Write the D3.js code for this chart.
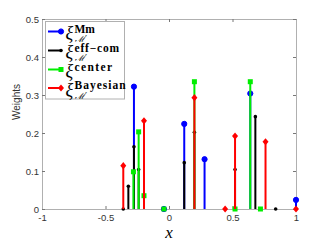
<!DOCTYPE html>
<html><head><meta charset="utf-8">
<script src="https://cdn.jsdelivr.net/npm/d3@7"></script>
<style>body{margin:0;background:#fff}</style></head>
<body><svg id="c" width="327" height="245"></svg>
<script>
// Data (node positions and weights) per series
const mmX  = [-0.276, -0.04, 0.12, 0.28, 0.64, 1.0];
const mmW  = [0.322, 0, 0.224, 0.131, 0.304, 0.024];
const effX = [-0.36, -0.32, -0.276, -0.239, 0.12, 0.2, 0.52, 0.68, 0.84];
const effW = [0, 0.06, 0.164, 0.104, 0.122, 0.202, 0.104, 0.243, 0];
const cenX = [-0.28, -0.239, -0.197, -0.04, 0.2, 0.52, 0.64, 0.72];
const cenW = [0.098, 0.203, 0.035, 0, 0.335, 0, 0.335, 0];
const bayX = [-0.36, -0.197, 0.2, 0.442, 0.52, 0.76, 1.0];
const bayW = [0.114, 0.232, 0.293, 0, 0.192, 0.177, 0];
const xTicks = [-1, -0.5, 0, 0.5, 1];
const xTickLabels = ["-1", "-0.5", "0", "0.5", "1"];
const yTicks = [0, 0.1, 0.2, 0.3, 0.4, 0.5];
const yTickLabels = ["0", "0.1", "0.2", "0.3", "0.4", "0.5"];
const seriesNames = ["Mm", "eff\u2212com", "center", "Bayesian"];
const seriesHasSub = [true, true, false, true];
const colors = ["#0000ff", "#000000", "#00ee00", "#ff0000"];
const markers = ["circle", "dot", "square", "diamond"];

const svg = d3.select("#c");
const L = 42, R = 296, T = 19, B = 209;
const x = d3.scaleLinear().domain([-1, 1]).range([L, R]);
const y = d3.scaleLinear().domain([0, 0.5]).range([B, T]);

const axisCol = "#b0b0b0", tickCol = "#777", txtCol = "#333";
function styleAxis(g){
  g.select(".domain").attr("stroke", axisCol).attr("stroke-width", 1);
  g.selectAll(".tick line").attr("stroke", tickCol);
  g.selectAll(".tick text").attr("fill", txtCol).attr("font-family", "Liberation Sans, Arial, sans-serif").attr("font-size", 9.5);
}
svg.append("g").attr("transform", `translate(0,${B})`)
  .call(d3.axisBottom(x).tickValues(xTicks).tickFormat((d,i)=>xTickLabels[i]).tickSize(-3).tickSizeOuter(0).tickPadding(5.5))
  .call(styleAxis);
svg.append("g").attr("transform", `translate(0,${T})`)
  .call(d3.axisTop(x).tickValues(xTicks).tickFormat("").tickSize(-3).tickSizeOuter(0))
  .call(styleAxis);
svg.append("g").attr("transform", `translate(${L},0)`)
  .call(d3.axisLeft(y).tickValues(yTicks).tickFormat((d,i)=>yTickLabels[i]).tickSize(-3).tickSizeOuter(0).tickPadding(3))
  .call(styleAxis);
svg.append("g").attr("transform", `translate(${R},0)`)
  .call(d3.axisRight(y).tickValues(yTicks).tickFormat("").tickSize(-3).tickSizeOuter(0))
  .call(styleAxis);

function drawMarker(g, kind, cx, cy, col){
  if(kind==="circle") g.append("circle").attr("cx",cx).attr("cy",cy).attr("r",2.6).attr("fill",col).attr("stroke",col).attr("stroke-width",1);
  else if(kind==="dot") g.append("circle").attr("cx",cx).attr("cy",cy).attr("r",1.8).attr("fill",col);
  else if(kind==="square") g.append("rect").attr("x",cx-2.5).attr("y",cy-2.5).attr("width",5).attr("height",5).attr("fill",col);
  else g.append("path").attr("d",`M${cx},${cy-3.6}L${cx+3},${cy}L${cx},${cy+3.6}L${cx-3},${cy}Z`).attr("fill",col);
}

const allX = [mmX, effX, cenX, bayX], allW = [mmW, effW, cenW, bayW];
allX.forEach((xs, s) => {
  const g = svg.append("g");
  xs.forEach((xv, i) => {
    g.append("line").attr("x1", x(xv)).attr("x2", x(xv)).attr("y1", y(0)).attr("y2", y(allW[s][i]))
      .attr("stroke", colors[s]).attr("stroke-width", 2);
  });
  xs.forEach((xv, i) => drawMarker(g, markers[s], x(xv), y(allW[s][i]), colors[s]));
});

// Legend
const lg = svg.append("g");
lg.append("rect").attr("x", 45.5).attr("y", 21.5).attr("width", 79).attr("height", 77.5)
  .attr("fill", "#fff").attr("stroke", axisCol).attr("stroke-width", 1);
const rowY = [31.5, 50.5, 69.5, 88];
const supSpacing = [0, 0.8, 1.4, 1.0];
seriesNames.forEach((n, i) => {
  const ly = rowY[i];
  lg.append("line").attr("x1", 48).attr("x2", 61).attr("y1", ly).attr("y2", ly).attr("stroke", colors[i]).attr("stroke-width", 2);
  drawMarker(lg, markers[i], 61, ly, colors[i]);
  const t = lg.append("text").attr("fill", "#000");
  t.append("tspan").attr("x", 65.5).attr("y", ly + 7.5).attr("font-family", "Liberation Serif, serif")
    .attr("font-style", "italic").attr("font-size", 18).text("\u03BE");
  t.append("tspan").attr("x", 74.5).attr("y", ly + 1).attr("font-family", "Liberation Serif, DejaVu Serif, serif")
    .attr("font-weight", "bold").attr("font-size", 11.5).attr("letter-spacing", supSpacing[i]).text(n);
  if (seriesHasSub[i]) {
    t.append("tspan").attr("x", 75).attr("y", ly + 10.5).attr("font-family", "DejaVu Serif, serif")
      .attr("font-style", "italic").attr("font-size", 8.5).text("\u2133\u2032");
  }
});

// Axis labels
svg.append("text").attr("transform", "translate(20,102) rotate(-90)").attr("text-anchor", "middle")
  .attr("font-family", "Liberation Sans, Arial, sans-serif").attr("font-size", 10).attr("fill", txtCol).text("Weights");
svg.append("text").attr("x", 169).attr("y", 238).attr("text-anchor", "middle")
  .attr("font-family", "Liberation Serif, DejaVu Serif, serif").attr("font-style", "italic").attr("font-size", 17).attr("fill", "#000").text("x");
</script></body></html>
